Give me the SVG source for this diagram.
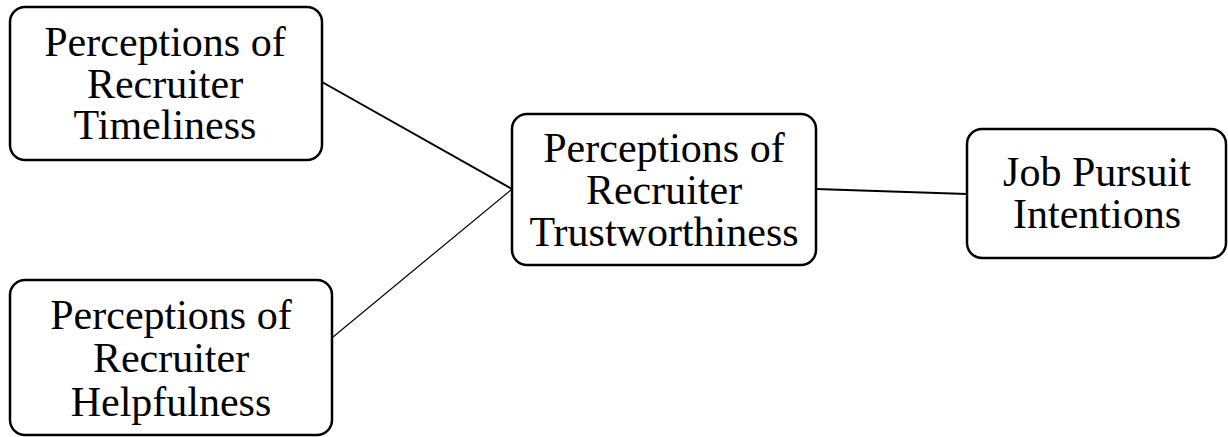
<svg xmlns="http://www.w3.org/2000/svg" width="1228" height="437" viewBox="0 0 1228 437">
<style>
.box{fill:#fff;stroke:#000;stroke-width:2.5}
.t{font-family:"Liberation Serif","Times New Roman",serif;font-size:42px;fill:#000;text-anchor:middle}
.c{stroke:#000;fill:none}
</style>
<rect width="1228" height="437" fill="#fff"/>
<g id="connectors">
<line class="c" x1="322" y1="82" x2="512" y2="189" stroke-width="2"/>
<line class="c" x1="333" y1="337" x2="512" y2="189" stroke-width="1.2"/>
<line class="c" x1="816" y1="189" x2="967" y2="194" stroke-width="2"/>
</g>
<g id="timeliness">
<rect class="box" x="10" y="7" width="312" height="153" rx="15"/>
<text class="t" x="165" y="56">Perceptions of</text>
<text class="t" x="165" y="98">Recruiter</text>
<text class="t" x="165" y="139">Timeliness</text>
</g>
<g id="helpfulness">
<rect class="box" x="10" y="280" width="322" height="155" rx="15"/>
<text class="t" x="171" y="329">Perceptions of</text>
<text class="t" x="171" y="372">Recruiter</text>
<text class="t" x="171" y="416">Helpfulness</text>
</g>
<g id="trust">
<rect class="box" x="512" y="114" width="304" height="151" rx="15"/>
<text class="t" x="664" y="162">Perceptions of</text>
<text class="t" x="664" y="204">Recruiter</text>
<text class="t" x="664" y="246">Trustworthiness</text>
</g>
<g id="job">
<rect class="box" x="967" y="129" width="259" height="129" rx="15"/>
<text class="t" x="1097" y="186">Job Pursuit</text>
<text class="t" x="1097" y="228">Intentions</text>
</g>
</svg>
